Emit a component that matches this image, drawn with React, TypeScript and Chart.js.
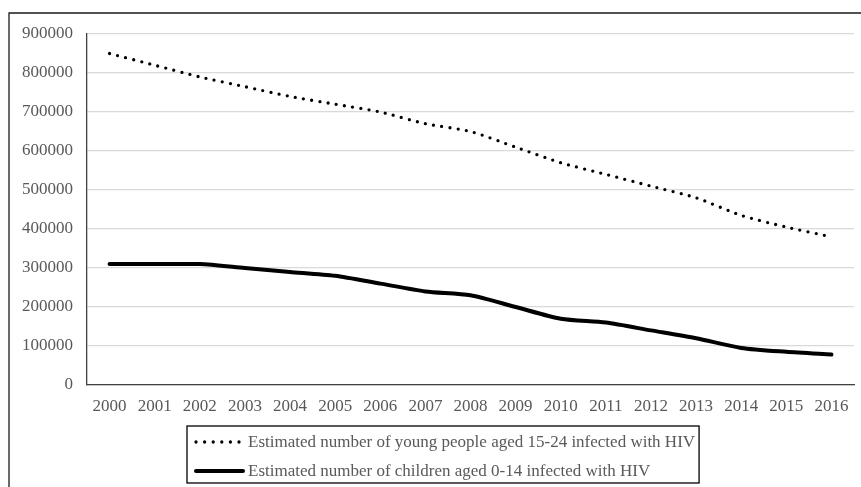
import { useEffect, useRef } from "react"
import { Chart, registerables, Plugin } from "chart.js"

Chart.register(...registerables)

const years = [
  "2000", "2001", "2002", "2003", "2004", "2005", "2006", "2007", "2008",
  "2009", "2010", "2011", "2012", "2013", "2014", "2015", "2016",
]

const youngPeople = [
  850000, 820000, 790000, 765000, 740000, 720000, 700000, 670000, 650000,
  610000, 570000, 540000, 510000, 480000, 435000, 405000, 380000,
]

const children = [
  310000, 310000, 310000, 300000, 290000, 280000, 260000, 240000, 230000,
  200000, 170000, 160000, 140000, 120000, 95000, 85000, 78000,
]

const youngLabel = "Estimated number of young people aged 15-24 infected with HIV"
const childLabel = "Estimated number of children aged 0-14 infected with HIV"

const FONT = "'Liberation Serif', 'Times New Roman', serif"
const TEXT_GRAY = "#595959"

// outer frame + boxed legend, drawn like the Excel export
const framePlugin: Plugin<"line"> = {
  id: "frameAndLegend",
  afterDraw(chart) {
    const ctx = chart.ctx
    ctx.save()

    ctx.strokeStyle = "#1a1a1a"
    ctx.lineWidth = 1.3
    ctx.beginPath()
    ctx.moveTo(9, 487)
    ctx.lineTo(9, 13)
    ctx.lineTo(861, 13)
    ctx.stroke()

    ctx.font = `17px ${FONT}`
    const textX = 248
    const rows = [
      { y: 442, label: chart.data.datasets[0].label || "", dotted: true },
      { y: 471, label: chart.data.datasets[1].label || "", dotted: false },
    ]
    const widest = Math.max(...rows.map((r) => ctx.measureText(r.label).width))

    ctx.strokeStyle = "#000"
    ctx.lineWidth = 1.3
    ctx.strokeRect(187, 426, textX + widest + 4 - 187, 57)

    rows.forEach((r) => {
      ctx.beginPath()
      ctx.strokeStyle = "#000"
      ctx.lineCap = "round"
      if (r.dotted) {
        ctx.lineWidth = 3.3
        ctx.setLineDash([0, 8.6])
        ctx.moveTo(196, r.y)
        ctx.lineTo(242, r.y)
      } else {
        ctx.lineWidth = 4
        ctx.setLineDash([])
        ctx.moveTo(196, r.y)
        ctx.lineTo(243, r.y)
      }
      ctx.stroke()
      ctx.setLineDash([])
      ctx.fillStyle = TEXT_GRAY
      ctx.textBaseline = "middle"
      ctx.textAlign = "left"
      ctx.fillText(r.label, textX, r.y + 1)
    })

    ctx.restore()
  },
}

export default function App() {
  const chartRef = useRef<HTMLCanvasElement>(null)
  const chartInstance = useRef<Chart | null>(null)

  useEffect(() => {
    if (!chartRef.current) return
    if (chartInstance.current) chartInstance.current.destroy()

    const ctx = chartRef.current.getContext("2d")
    if (!ctx) return

    chartInstance.current = new Chart(ctx, {
      type: "line",
      data: {
        labels: years,
        datasets: [
          {
            label: youngLabel,
            data: youngPeople,
            borderColor: "#000",
            borderWidth: 3.3,
            borderDash: [0, 8.3],
            borderCapStyle: "round",
            pointRadius: 0,
            tension: 0.25,
          },
          {
            label: childLabel,
            data: children,
            borderColor: "#000",
            borderWidth: 4,
            borderCapStyle: "round",
            pointRadius: 0,
            tension: 0.25,
          },
        ],
      },
      options: {
        animation: false,
        responsive: true,
        maintainAspectRatio: false,
        layout: { padding: { left: 20, top: 34, right: 7, bottom: 0 } },
        plugins: {
          legend: { display: false },
          tooltip: { enabled: false },
        },
        scales: {
          x: {
            offset: true,
            grid: { display: false, drawTicks: false },
            border: { display: true, color: "#404040", width: 1.3 },
            ticks: {
              color: TEXT_GRAY,
              font: { family: FONT, size: 17 },
              padding: 11,
              maxRotation: 0,
              autoSkip: false,
            },
            afterFit: (scale) => {
              scale.height = 102
            },
          },
          y: {
            min: 0,
            max: 900000,
            ticks: {
              stepSize: 100000,
              color: TEXT_GRAY,
              font: { family: FONT, size: 17 },
              padding: 14,
              callback: (value) => String(value),
            },
            grid: { color: "#d9d9d9", lineWidth: 1.3, drawTicks: false },
            border: { display: true, color: "#404040", width: 1.3 },
            afterFit: (scale) => {
              scale.width = 67
            },
          },
        },
      },
      plugins: [framePlugin],
    })

    return () => {
      if (chartInstance.current) {
        chartInstance.current.destroy()
        chartInstance.current = null
      }
    }
  }, [])

  return (
    <div style={{ position: "fixed", left: 0, top: 0, width: 861, height: 487, background: "#fff" }}>
      <canvas ref={chartRef} />
    </div>
  )
}
